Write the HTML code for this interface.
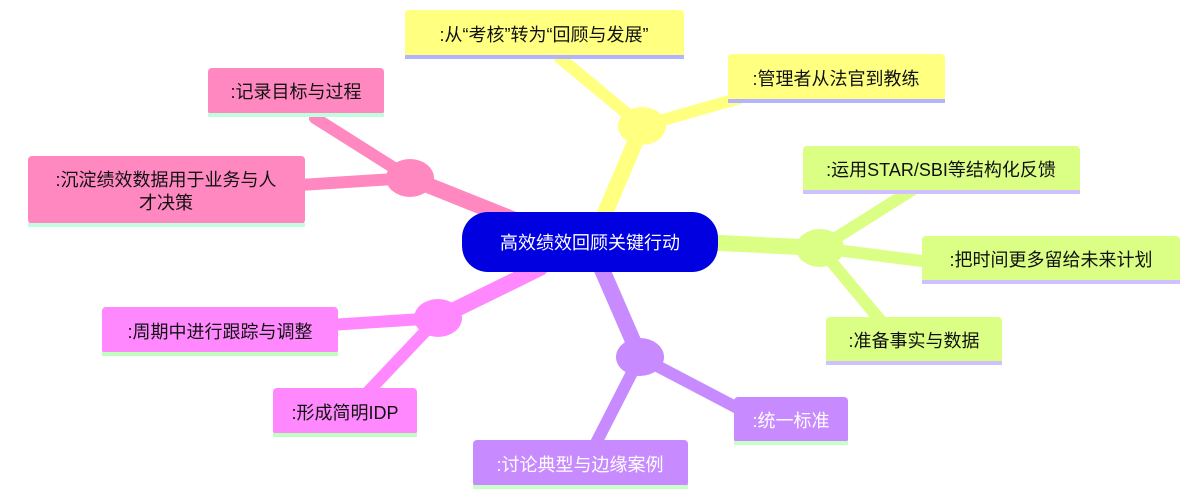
<!DOCTYPE html>
<html><head><meta charset="utf-8"><style>
body{margin:0;background:#fff}
text{font-family:"Liberation Sans","Noto Sans CJK SC",sans-serif;font-size:18px}
</style></head><body>
<svg width="1201" height="499" viewBox="0 0 1201 499" xmlns="http://www.w3.org/2000/svg">
<g stroke-linecap="round" fill="none">
<g stroke="#FFFF80"><line x1="600" y1="225" x2="642" y2="126" stroke-width="16"/><line x1="642" y1="126" x2="560" y2="58" stroke-width="12"/><line x1="642" y1="126" x2="740" y2="98" stroke-width="12"/></g>
<g stroke="#DAFF84"><line x1="700" y1="242" x2="820" y2="248" stroke-width="16"/><line x1="820" y1="248" x2="912" y2="190" stroke-width="12"/><line x1="820" y1="248" x2="930" y2="262" stroke-width="12"/><line x1="820" y1="248" x2="880" y2="320" stroke-width="12"/></g>
<g stroke="#C88BFF"><line x1="600" y1="265" x2="640" y2="357" stroke-width="16"/><line x1="640" y1="357" x2="745" y2="412" stroke-width="12"/><line x1="640" y1="357" x2="595" y2="445" stroke-width="12"/></g>
<g stroke="#FF88C0"><line x1="520" y1="222" x2="410" y2="178" stroke-width="16"/><line x1="410" y1="178" x2="315" y2="118" stroke-width="12"/><line x1="410" y1="178" x2="300" y2="185" stroke-width="12"/></g>
<g stroke="#FF88FF"><line x1="540" y1="268" x2="438" y2="318" stroke-width="16"/><line x1="438" y1="318" x2="330" y2="325" stroke-width="12"/><line x1="438" y1="318" x2="365" y2="395" stroke-width="12"/></g>
</g>
<ellipse cx="642" cy="126" rx="24" ry="19" fill="#FFFF80"/>
<ellipse cx="820" cy="248" rx="24" ry="19" fill="#DAFF84"/>
<ellipse cx="640" cy="357" rx="24" ry="19" fill="#C88BFF"/>
<ellipse cx="410" cy="178" rx="24" ry="19" fill="#FF88C0"/>
<ellipse cx="438" cy="318" rx="24" ry="19" fill="#FF88FF"/>

<rect x="462" y="212" width="256" height="60" rx="26" fill="#0000E0"/>
<text x="590" y="249" fill="#fff" text-anchor="middle" font-size="19">高效绩效回顾关键行动</text>

<!-- yellow -->
<rect x="405" y="10" width="279" height="48" rx="4" fill="#FFFF80"/><rect x="405" y="55" width="279" height="4" fill="#B3B3FF"/>
<text x="544" y="41" text-anchor="middle" fill="#111">:从“考核”转为“回顾与发展”</text>
<rect x="728" y="54" width="217" height="48" rx="4" fill="#FFFF80"/><rect x="728" y="99" width="217" height="4" fill="#B3B3FF"/>
<text x="836" y="85" text-anchor="middle" fill="#111">:管理者从法官到教练</text>
<!-- green -->
<rect x="803" y="146" width="277" height="47" rx="4" fill="#DAFF84"/><rect x="803" y="190" width="277" height="4" fill="#CFC0FF"/>
<text x="941" y="176" text-anchor="middle" fill="#111">:运用STAR/SBI等结构化反馈</text>
<rect x="922" y="236" width="258" height="47" rx="4" fill="#DAFF84"/><rect x="922" y="280" width="258" height="4" fill="#CFC0FF"/>
<text x="1051" y="266" text-anchor="middle" fill="#111">:把时间更多留给未来计划</text>
<rect x="826" y="317" width="176" height="47" rx="4" fill="#DAFF84"/><rect x="826" y="361" width="176" height="4" fill="#CFC0FF"/>
<text x="914" y="347" text-anchor="middle" fill="#111">:准备事实与数据</text>
<!-- purple -->
<rect x="734" y="397" width="114" height="46" rx="4" fill="#C88BFF"/><rect x="734" y="441" width="114" height="4" fill="#C8FFC8"/>
<text x="791" y="427" text-anchor="middle" fill="#fff">:统一标准</text>
<rect x="473" y="440" width="215" height="47" rx="4" fill="#C88BFF"/><rect x="473" y="485" width="215" height="4" fill="#C8FFC8"/>
<text x="580" y="471" text-anchor="middle" fill="#fff">:讨论典型与边缘案例</text>
<!-- pink -->
<rect x="208" y="68" width="176" height="47" rx="4" fill="#FF88C0"/><rect x="208" y="113" width="176" height="4" fill="#C0FFDD"/>
<text x="296" y="98" text-anchor="middle" fill="#111">:记录目标与过程</text>
<rect x="28" y="156" width="277" height="68" rx="4" fill="#FF88C0"/><rect x="28" y="223" width="277" height="4" fill="#C0FFDD"/>
<text x="166" y="186" text-anchor="middle" fill="#111">:沉淀绩效数据用于业务与人</text>
<text x="166" y="209" text-anchor="middle" fill="#111">才决策</text>
<!-- magenta -->
<rect x="102" y="307" width="236" height="47" rx="4" fill="#FF88FF"/><rect x="102" y="352" width="236" height="4" fill="#C0FFC0"/>
<text x="220" y="338" text-anchor="middle" fill="#111">:周期中进行跟踪与调整</text>
<rect x="273" y="388" width="144" height="47" rx="4" fill="#FF88FF"/><rect x="273" y="433" width="144" height="4" fill="#C0FFC0"/>
<text x="345" y="419" text-anchor="middle" fill="#111">:形成简明IDP</text>
</svg>
</body></html>
